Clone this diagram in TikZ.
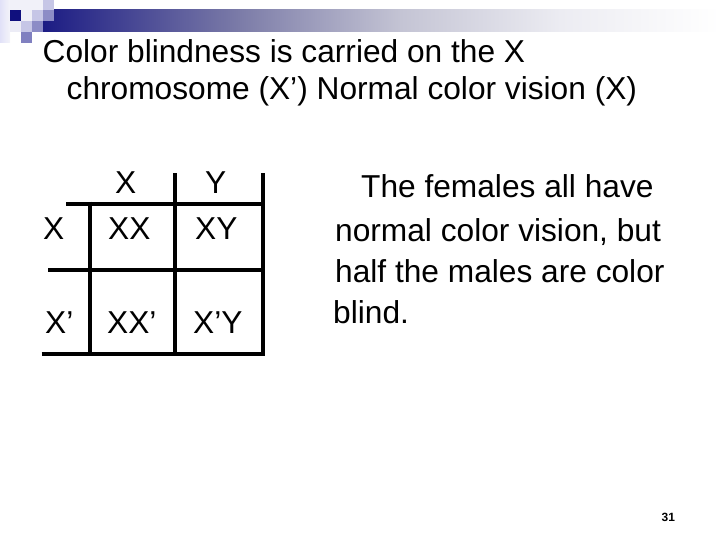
\documentclass[tikz,border=0pt]{standalone}
\usepackage{fontspec}
\setmainfont{Liberation Sans}
\definecolor{navy}{HTML}{10107E}
\definecolor{barA}{HTML}{1C1C84}
\definecolor{barB}{HTML}{7C7CA8}
\definecolor{barC}{HTML}{C4C4D4}
\definecolor{barD}{HTML}{ECECF2}
\definecolor{sqpale}{HTML}{E4E4F2}
\definecolor{sqlight}{HTML}{C6C6E6}
\definecolor{sqmid}{HTML}{8C8CC6}
\definecolor{sqmidb}{HTML}{8080C0}
\begin{document}
\begin{tikzpicture}[x=1bp,y=-1bp,
  txt/.style={anchor=base west,inner sep=0pt,font=\fontsize{31.8}{36}\selectfont},
  grid/.style={line width=4bp,black}]
\useasboundingbox (0,0) rectangle (720,540);
% decoration: gradient bar
\shade[left color=barA,right color=barB] (43,10) rectangle (240.5,32);
\shade[left color=barB,right color=barC] (240,10) rectangle (400.5,32);
\shade[left color=barC,right color=barD] (400,10) rectangle (560.5,32);
\shade[left color=barD,right color=white] (560,10) rectangle (720,32);
% decoration: squares
\shade[left color=sqpale!90!blue!60!white,right color=sqpale!40!white] (0,0) rectangle (10,43);
\fill[sqpale!50!white] (10,0) rectangle (43,10);
\fill[sqlight] (43,0) rectangle (54,10);
\fill[navy] (10,10) rectangle (21,21);
\fill[sqpale!60!white] (21,10) rectangle (32,21);
\fill[sqlight] (32,10) rectangle (43,21);
\fill[sqmid] (43,10) rectangle (54,21);
\fill[sqpale!70!white] (10,21) rectangle (21,32);
\fill[sqlight] (21,21) rectangle (32,32);
\fill[sqmid] (32,21) rectangle (43,32);
\fill[sqmidb] (21,32) rectangle (32,43);
% title
\node[txt] (t1) at (42.5,63) {Color blindness is carried on the X};
\node[txt] (t2) at (66.5,100) {chromosome (X’) Normal color vision (X)};
% Punnett square lines
\draw[grid] (66,203.7) -- (264.7,203.7);
\draw[grid] (48.3,270.3) -- (264.7,270.3);
\draw[grid] (41.7,353.7) -- (264.7,353.7);
\draw[grid] (90,201.7) -- (90,355.7);
\draw[grid] (174.7,173.3) -- (174.7,355.7);
\draw[grid] (262.7,173.3) -- (262.7,355.7);
% Punnett square text
\node[txt] (hx) at (115,194) {X};
\node[txt] (hy) at (205,194) {Y};
\node[txt] (r1) at (43,240) {X};
\node[txt] (xx) at (108,240) {XX};
\node[txt] (xy) at (195,240) {XY};
\node[txt] (r2) at (45,333) {X’};
\node[txt] (xxp) at (107,333) {XX’};
\node[txt] (xpy) at (193,333) {X’Y};
% right text
\node[txt] (p1) at (361,198) {The females all have};
\node[txt] (p2) at (335,242) {normal color vision, but};
\node[txt] (p3) at (335,283) {half the males are color};
\node[txt] (p4) at (333,323) {blind.};
% page number
\node[anchor=base west,inner sep=0pt,font=\fontsize{12}{14}\selectfont\bfseries] (pn) at (661.5,521) {31};
\end{tikzpicture}
\end{document}
